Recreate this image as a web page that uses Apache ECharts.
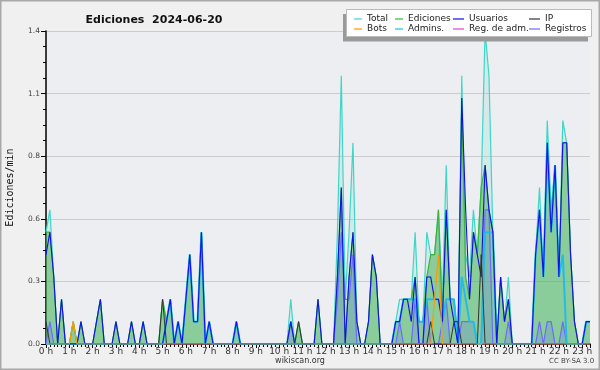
<!DOCTYPE html>
<html><head><meta charset="utf-8">
<script src="https://cdn.jsdelivr.net/npm/echarts@6/dist/echarts.min.js"></script>
<style>html,body{margin:0;padding:0;background:#f0f0f0}#c{width:600px;height:370px}</style>
</head><body><div id="c"></div>
<script>
// 10-minute bins, edits per minute, 00:00 .. 23:20
const stepMinutes = 10;
const total = [
0.5,0.6,0.3,0,0.2,0,0,0.1,0,0.1,
0,0,0,0.1,0.2,0,0,0,0.1,0,
0,0,0.1,0,0,0.1,0,0,0,0,
0.2,0.1,0.2,0,0.1,0,0.2,0.4,0.1,0.1,
0.5,0,0.1,0,0,0,0,0,0,0.1,
0,0,0,0,0,0,0,0,0,0,
0,0,0,0.2,0,0.1,0,0,0,0,
0.2,0,0,0,0,0.5,1.2,0.2,0.5,0.9,
0.1,0,0,0.1,0.4,0.3,0,0,0,0,
0.1,0.2,0.2,0.2,0.2,0.5,0.1,0.1,0.5,0.4,
0.4,0.6,0.2,0.8,0.2,0.2,0,1.2,0.4,0.3,
0.6,0.4,0.7,1.4,1.2,0.5,0,0.3,0.1,0.3,
0,0,0,0,0,0,0.4,0.7,0.3,1.0,
0.6,0.8,0.3,1.0,0.9,0.4,0.1,0,0,0.1,0.1];
const ediciones = [
0.5,0.5,0.3,0,0.2,0,0,0.1,0,0.1,
0,0,0,0.1,0.2,0,0,0,0.1,0,
0,0,0.1,0,0,0.1,0,0,0,0,
0.2,0.1,0.2,0,0.1,0,0.2,0.4,0.1,0.1,
0.5,0,0.1,0,0,0,0,0,0,0.1,
0,0,0,0,0,0,0,0,0,0,
0,0,0,0.1,0,0.1,0,0,0,0,
0.2,0,0,0,0,0.3,0.7,0,0.3,0.5,
0.1,0,0,0.1,0.4,0.3,0,0,0,0,
0.1,0.1,0.2,0.2,0.2,0.3,0.1,0.1,0.3,0.4,
0.4,0.6,0.1,0.6,0.2,0.2,0,1.1,0.3,0.2,
0.5,0.4,0.7,0.8,0.6,0.5,0,0.3,0.1,0.2,
0,0,0,0,0,0,0.4,0.6,0.3,0.9,
0.5,0.8,0.3,0.9,0.9,0.4,0.1,0,0,0.1,0.1];
const usuarios = [
0.4,0.5,0.3,0,0.2,0,0,0,0,0.1,
0,0,0,0.1,0.2,0,0,0,0.1,0,
0,0,0.1,0,0,0.1,0,0,0,0,
0,0.1,0.2,0,0.1,0,0.2,0.4,0.1,0.1,
0.5,0,0.1,0,0,0,0,0,0,0.1,
0,0,0,0,0,0,0,0,0,0,
0,0,0,0.1,0,0,0,0,0,0,
0.2,0,0,0,0,0.3,0.7,0,0.3,0.5,
0.1,0,0,0.1,0.4,0.3,0,0,0,0,
0.1,0.1,0.2,0.2,0.1,0.3,0,0,0.3,0.3,
0.2,0.2,0.1,0.6,0.2,0.1,0,1.1,0.6,0.2,
0.5,0.4,0.3,0.8,0.6,0.5,0,0.3,0.1,0.2,
0,0,0,0,0,0,0.4,0.6,0.3,0.9,
0.5,0.8,0.3,0.9,0.9,0.4,0.1,0,0,0.1,0.1];
const ip = [
0.1,0,0,0,0,0,0,0,0,0,
0,0,0,0,0,0,0,0,0,0,
0,0,0,0,0,0,0,0,0,0,
0.2,0,0,0,0,0,0,0,0,0,
0,0,0,0,0,0,0,0,0,0,
0,0,0,0,0,0,0,0,0,0,
0,0,0,0,0,0.1,0,0,0,0,
0,0,0,0,0,0,0,0,0,0,
0,0,0,0,0,0,0,0,0,0,
0,0,0,0,0,0,0,0,0,0.1,
0,0,0,0,0,0.1,0.1,0,0,0,
0,0,0.4,0,0,0,0,0,0,0,
0,0,0,0,0,0,0,0,0,0,
0,0,0,0,0,0,0,0,0,0,0];
const bots = [
0,0,0,0,0,0,0,0.1,0,0,
0,0,0,0,0,0,0,0,0,0,
0,0,0,0,0,0,0,0,0,0,
0,0,0,0,0,0,0,0,0,0,
0,0,0,0,0,0,0,0,0,0,
0,0,0,0,0,0,0,0,0,0,
0,0,0,0,0,0,0,0,0,0,
0,0,0,0,0,0,0,0,0,0,
0,0,0,0,0,0,0,0,0,0,
0,0,0,0,0,0,0,0,0,0,
0.2,0.4,0,0,0,0,0,0,0,0,
0,0,0,0,0,0,0,0,0,0,
0,0,0,0,0,0,0,0,0,0,
0,0,0,0,0,0,0,0,0,0,0];
const admins = [
0,0,0,0,0,0,0,0,0,0,
0,0,0,0,0,0,0,0,0,0,
0,0,0,0,0,0,0,0,0,0,
0,0.1,0.2,0,0.1,0,0.2,0.4,0.1,0.1,
0.5,0,0.1,0,0,0,0,0,0,0.1,
0,0,0,0,0,0,0,0,0,0,
0,0,0,0,0,0,0,0,0,0,
0,0,0,0,0,0,0,0,0,0,
0,0,0,0,0,0,0,0,0,0,
0.1,0.1,0.2,0.2,0.2,0.2,0.1,0.1,0.2,0.2,
0.2,0.2,0.1,0.2,0.2,0.2,0,0.3,0.2,0.1,
0.1,0,0,0.5,0.5,0.5,0,0,0,0,
0,0,0,0,0,0,0.4,0.6,0.3,0.9,
0.5,0.8,0.3,0.4,0,0,0,0,0,0.1,0.1];
const regAdm = [
0,0,0,0,0,0,0,0,0,0,
0,0,0,0,0,0,0,0,0,0,
0,0,0,0,0,0,0,0,0,0,
0,0,0,0,0,0,0,0,0,0,
0,0,0,0,0,0,0,0,0,0,
0,0,0,0,0,0,0,0,0,0,
0,0,0,0,0,0,0,0,0,0,
0,0,0,0,0,0,0,0,0,0,
0,0,0,0,0,0,0,0,0,0,
0,0,0,0,0,0,0,0,0,0,
0,0,0,0,0,0,0,0,0,0,
0,0,0,0,0,0,0,0,0,0,
0,0,0,0,0,0,0,0,0,0,
0,0,0,0,0,0,0,0,0,0,0];
const registros = [
0,0.1,0,0,0,0,0,0,0,0,
0,0,0,0,0,0,0,0,0,0,
0,0,0,0,0,0,0,0,0,0,
0,0,0,0,0,0,0,0,0,0,
0,0,0,0,0,0,0,0,0,0,
0,0,0,0,0,0,0,0,0,0,
0,0,0,0.1,0,0,0,0,0,0,
0,0,0,0,0,0.2,0.5,0.2,0.2,0.4,
0,0,0,0,0,0,0,0,0,0,
0,0.1,0,0,0,0.2,0,0,0.2,0,
0,0,0.1,0.2,0,0,0,0.1,0.1,0.1,
0.1,0,0,0.6,0.6,0,0,0,0,0.1,
0,0,0,0,0,0,0,0.1,0,0.1,
0.1,0,0,0.1,0,0,0,0,0,0,0];

const pts = arr => arr.map((v, i) => [i * stepMinutes, v]);
const FONT = 'DejaVu Sans';
const chart = echarts.init(document.getElementById('c'), null, {renderer: 'canvas'});

function lineSeries(name, data, color, width, z, area) {
  const s = {name, type: 'line', data: pts(data), symbol: 'none', z,
    lineStyle: {color, width}, itemStyle: {color}, animation: false};
  if (area) s.areaStyle = {color: area, opacity: 1};
  return s;
}
const legendCfg = (name, left, top, w) => ({
  data: [name], left, top, padding: 0, itemWidth: w, itemHeight: 1.2, icon: 'rect', z: 30,
  selectedMode: false,
  textStyle: {fontFamily: FONT, fontSize: 9, color: '#222', lineHeight: 10}
});

chart.setOption({
  backgroundColor: '#f0f0f0',
  animation: false,
  title: {text: 'Ediciones  2024-06-20', left: 149, top: 10, textAlign: 'center',
    textStyle: {fontFamily: 'DejaVu Sans', fontWeight: 'bold', fontSize: 11, color: '#111'}},
  grid: {left: 46, right: 10, top: 31, bottom: 26, show: true, backgroundColor: '#eceef1', borderWidth: 0,
    containLabel: false, outerBoundsMode: 'none'},
  xAxis: {type: 'value', min: 0, max: 1400, interval: 60,
    axisLine: {lineStyle: {color: '#000', width: 1.5}},
    axisTick: {length: 4, lineStyle: {color: '#000'}},
    minorTick: {show: true, splitNumber: 6, length: 3, lineStyle: {color: '#000'}},
    splitLine: {show: false},
    axisLabel: {margin: 3, fontFamily: FONT, fontSize: 9, color: '#333',
      formatter: v => (v % 60 === 0 ? (v / 60) + ' h' : ''), showMaxLabel: false}},
  yAxis: {type: 'value', min: 0, max: 1.4, interval: 0.28,
    name: 'Ediciones/min', nameLocation: 'middle', nameGap: 31, nameRotate: 90,
    nameTextStyle: {fontFamily: 'DejaVu Sans Mono', fontSize: 10, color: '#111'},
    axisLine: {show: true, lineStyle: {color: '#000', width: 1.5}},
    axisTick: {show: true, length: 5, lineStyle: {color: '#000'}},
    minorTick: {show: true, splitNumber: 4, length: 3, lineStyle: {color: '#000'}},
    splitLine: {lineStyle: {color: '#cccccc', width: 1}},
    axisLabel: {margin: 6, fontFamily: FONT, fontSize: 7.5, color: '#444',
      formatter: v => v.toFixed(1)}},
  legend: [
    legendCfg('Total', 354, 14, 8), legendCfg('Bots', 354, 24, 8),
    legendCfg('Ediciones', 395, 14, 8), legendCfg('Admins.', 395, 24, 8),
    legendCfg('Usuarios', 453, 14, 11), legendCfg('Reg. de adm.', 453, 24, 11),
    legendCfg('IP', 529, 14, 11), legendCfg('Registros', 529, 24, 11)
  ],
  graphic: [
    {type: 'rect', z: 20, shape: {x: 343, y: 14, width: 245, height: 27.5}, style: {fill: '#9a9a9a'}},
    {type: 'rect', z: 21, shape: {x: 346.5, y: 9.5, width: 245, height: 27}, style: {fill: '#ffffff', stroke: '#bbbbbb', lineWidth: 1}},
    {type: 'text', z: 5, left: 'center', top: 357, style: {text: 'wikiscan.org', font: '8px DejaVu Sans', fill: '#333'}},
    {type: 'text', z: 5, left: 549, top: 358, style: {text: 'CC BY-SA 3.0', font: '7px DejaVu Sans', fill: '#444'}},
    {type: 'rect', z: 40, shape: {x: 0.75, y: 0.75, width: 598.5, height: 368.5}, style: {fill: 'none', stroke: '#a8a8a8', lineWidth: 1.5}}
  ],
  series: [
    lineSeries('Total', total, '#3fd6c6', 1.2, 2, 'rgba(64,208,192,0.14)'),
    lineSeries('Ediciones', ediciones, '#3cb43c', 1.2, 3, 'rgba(80,180,90,0.55)'),
    lineSeries('Registros', registros, '#6b6bff', 1.2, 4, 'rgba(90,90,255,0.18)'),
    lineSeries('Admins.', admins, '#22bde6', 2, 5),
    lineSeries('Usuarios', usuarios, '#1010e8', 1.1, 6),
    lineSeries('IP', ip, '#333333', 1, 7),
    lineSeries('Bots', bots, '#ff9a00', 1.2, 8),
    lineSeries('Reg. de adm.', regAdm, '#e040e0', 1, 1)
  ]
});
</script></body></html>
